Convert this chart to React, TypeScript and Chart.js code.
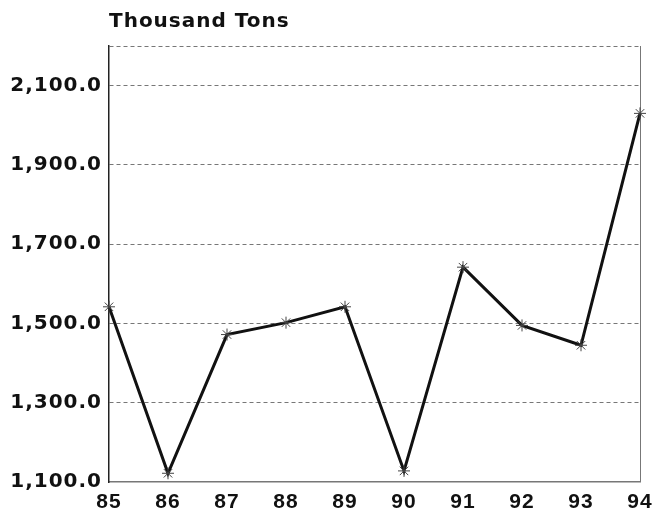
import React, { useEffect, useRef } from "react";
import { Chart, registerables } from "chart.js";

Chart.register(...registerables);

const years = ["85", "86", "87", "88", "89", "90", "91", "92", "93", "94"];
const tonnage = [1542, 1122, 1472, 1502, 1542, 1128, 1642, 1495, 1445, 2030];
const yTicks = [1100, 1300, 1500, 1700, 1900, 2100, 2200];
const unitLabel = "Thousand Tons";

export default function App() {
  const ref = useRef<HTMLCanvasElement | null>(null);
  useEffect(() => {
    if (!ref.current) return;
    const spacingPlugin = {
      id: "spacing",
      beforeDraw(chart: any) {
        chart.ctx.letterSpacing = "1px";
      },
      afterDraw(chart: any) {
        const ctx = chart.ctx;
        ctx.save();
        ctx.letterSpacing = "1px";
        ctx.fillStyle = "#111";
        ctx.font = "bold 20px 'DejaVu Sans'";
        ctx.textBaseline = "alphabetic";
        ctx.textAlign = "left";
        ctx.fillText(unitLabel, chart.chartArea.left, 27);
        ctx.restore();
        ctx.letterSpacing = "0px";
      },
    };
    const chart = new Chart(ref.current, {
      type: "line",
      data: {
        labels: years,
        datasets: [
          {
            data: tonnage,
            borderColor: "#111",
            borderWidth: 3,
            tension: 0,
            pointStyle: "star",
            pointRadius: 6,
            pointBorderColor: "#444",
            pointBackgroundColor: "#444",
            pointBorderWidth: 1,
          },
        ],
      },
      options: {
        animation: false,
        responsive: false,
        layout: { padding: { top: 46, right: 27, left: 0, bottom: 0 } },
        plugins: { legend: { display: false }, tooltip: { enabled: false }, title: { display: false } },
        scales: {
          x: {
            offset: false,
            grid: {
              drawTicks: false,
              color: (c: any) => (c.index === years.length - 1 ? "#777" : "rgba(0,0,0,0)"),
              lineWidth: 1,
            },
            border: { display: true, color: "#777", width: 1.5 },
            ticks: {
              color: "#111",
              font: { family: "'Liberation Sans'", weight: "bold", size: 21 },
              padding: 8,
              maxRotation: 0,
              autoSkip: false,
            },
            afterFit: (s: any) => {
              s.height = 31;
            },
          },
          y: {
            min: 1100,
            max: 2200,
            afterBuildTicks: (s: any) => {
              s.ticks = yTicks.map((v) => ({ value: v }));
            },
            grid: {
              drawTicks: false,
              color: (c: any) => (c.tick && c.tick.value === 1100 ? "rgba(0,0,0,0)" : "#777"),
              lineWidth: 1,
            },
            border: { display: true, color: "#222", width: 1.5, dash: [4, 3] },
            ticks: {
              color: "#111",
              padding: 7,
              font: { family: "'DejaVu Sans'", weight: "bold", size: 20 },
              callback: (v: any) =>
                Number(v) === 2200
                  ? ""
                  : Number(v).toLocaleString("en-US", { minimumFractionDigits: 1, maximumFractionDigits: 1 }),
            },
            afterFit: (s: any) => {
              s.width = 109;
            },
          },
        },
      },
      plugins: [spacingPlugin],
    } as any);
    return () => chart.destroy();
  }, []);
  return (
    <div style={{ position: "absolute", left: 0, top: 0, width: 667, height: 513, background: "#fff" }}>
      <canvas ref={ref} width={667} height={513} style={{ width: 667, height: 513 }} />
    </div>
  );
}
